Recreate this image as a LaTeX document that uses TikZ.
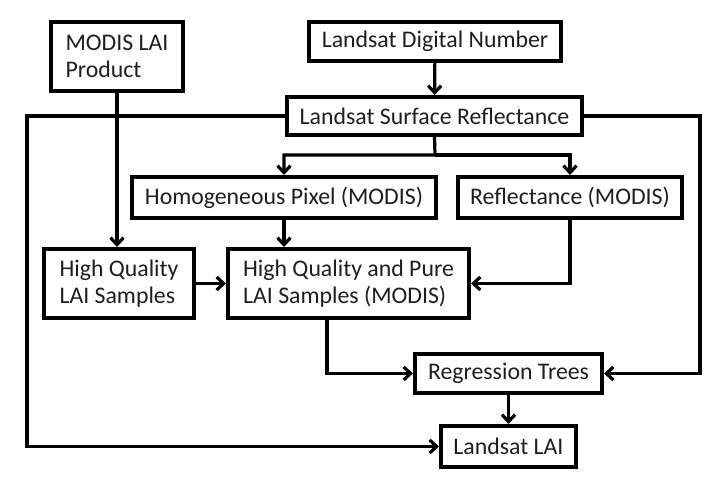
\documentclass[tikz,border=0pt]{standalone}
\usepackage{fontspec}
\setmainfont{Carlito}
\usetikzlibrary{arrows.meta, positioning, calc}
\definecolor{flowline}{RGB}{0,0,0}
\definecolor{flowtext}{RGB}{30,30,30}

\begin{document}
\begin{tikzpicture}[x=1pt, y=-1pt,
	box/.style={draw=flowline, line width=4pt, inner xsep=10pt, inner ysep=0pt,
		text=flowtext, font=\fontsize{23.8}{27}\selectfont},
	flow/.style={draw=flowline, line width=3.2pt, -{Straight Barb[length=7pt,width=13pt]}}]
				\useasboundingbox (0,0) rectangle (722,477);
				\node[box, minimum width=132pt, minimum height=69pt, align=left] (modis) at (117,56.5) {MODIS LAI\\Product};
				\node[box, minimum width=252pt, minimum height=39pt] (dn) at (435,41.5) {Landsat Digital Number};
				\node[box, minimum width=295pt, minimum height=38pt] (lsr) at (434.5,116) {Landsat Surface Reflectance};
				\node[box, minimum width=304pt, minimum height=41pt] (homo) at (284,197.5) {Homogeneous Pixel (MODIS)};
				\node[box, minimum width=224pt, minimum height=41pt] (refl) at (570,197.5) {Reflectance (MODIS)};
				\node[box, minimum width=150pt, minimum height=69pt, align=left] (hq) at (119,283.5) {High Quality\\LAI Samples};
				\node[box, minimum width=241pt, minimum height=69pt, align=left] (hqp) at (348.5,283.5) {High Quality and Pure\\LAI Samples (MODIS)};
				\node[box, minimum width=187pt, minimum height=39pt] (rt) at (508.5,373.5) {Regression Trees};
				\node[box, minimum width=135pt, minimum height=41pt] (lai) at (508.5,446.5) {Landsat LAI};
				\coordinate (split) at (435,155);
				\coordinate (lcorner) at (27,446.5);
				\coordinate (rcorner) at (700,373.5);
				\draw[flow] (dn) -- (lsr);
				\draw[flow] (lsr.south) -- (split) -| (homo.north);
				\draw[flow] (split) -| (refl.north);
				\draw[flow] (modis.south) -- (modis.south |- hq.north);
				\draw[flow] (homo.south) -- (homo.south |- hqp.north);
				\draw[flow] (hq) -- (hqp);
				\draw[flow] (refl.south) |- (hqp.east);
				\draw[flow] ([xshift=-21.5pt]hqp.south) |- (rt.west);
				\draw[flow] (lsr.east) -| (rcorner) -- (rt.east);
				\draw[flow] (lsr.west) -| (lcorner) -- (lai.west);
				\draw[flow] (rt) -- (lai);
			\end{tikzpicture}
\end{document}
